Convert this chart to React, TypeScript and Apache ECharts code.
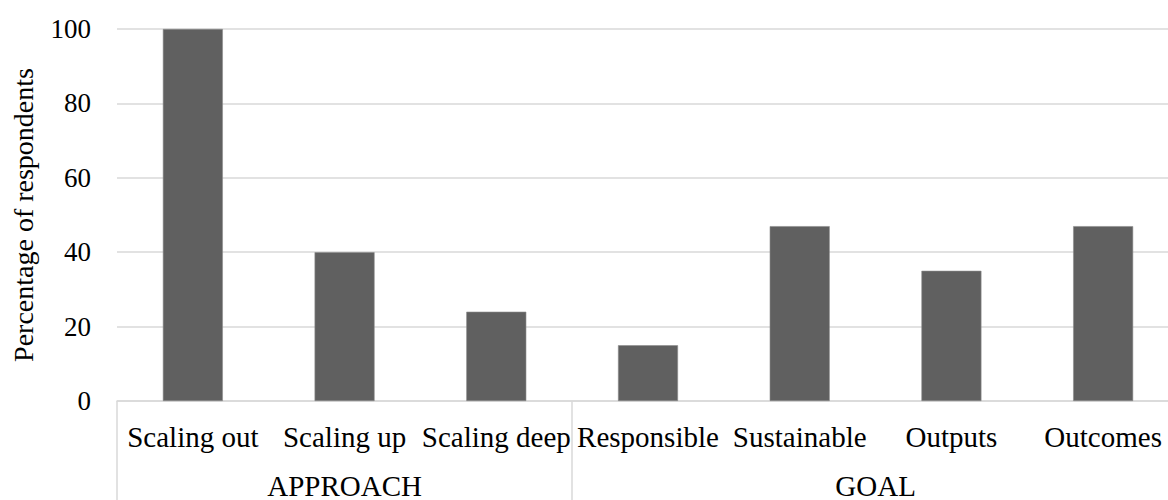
import React, { useEffect, useRef } from "react";
import * as echarts from "echarts";

const categories = ["Scaling out", "Scaling up", "Scaling deep", "Responsible", "Sustainable", "Outputs", "Outcomes"];
const values = [100, 40, 24, 15, 47, 35, 47];
const groupNames = ["APPROACH", "GOAL"];
const groupSizes = [3, 4];
const yTicks = [0, 20, 40, 60, 80, 100];

export default function App() {
  const ref = useRef<HTMLDivElement>(null);
  useEffect(() => {
    if (!ref.current) return;
    const chart = echarts.init(ref.current, null, { renderer: "svg" });
    const font = "'Liberation Serif', 'Times New Roman', serif";
    const bounds: number[] = [0];
    groupSizes.forEach((s) => bounds.push(bounds[bounds.length - 1] + s));
    const centers = groupSizes.map((s, i) => bounds[i] + s / 2);
    chart.setOption({
      animation: false,
      grid: { left: 117, width: 1062, top: 29, height: 372, outerBoundsMode: "none", containLabel: false },
      xAxis: [
        {
          type: "category",
          data: categories,
          position: "bottom",
          axisLine: { show: true, lineStyle: { color: "#d9d9d9", width: 1.5 } },
          axisTick: { show: false },
          axisLabel: { color: "#000", fontFamily: font, fontSize: 29, margin: 21, interval: 0 },
        },
        {
          type: "value",
          min: 0,
          max: categories.length,
          position: "bottom",
          axisLine: { show: false },
          splitLine: { show: false },
          axisTick: {
            show: true,
            customValues: bounds,
            length: 110,
            lineStyle: { color: "#d9d9d9", width: 1.5 },
          },
          axisLabel: {
            show: true,
            customValues: centers,
            color: "#000",
            fontFamily: font,
            fontSize: 29,
            margin: 70,
            formatter: (v: number) => {
              const i = centers.findIndex((c) => Math.abs(c - v) < 1e-6);
              return i >= 0 ? groupNames[i] : "";
            },
          },
        },
      ],
      yAxis: {
        type: "value",
        min: yTicks[0],
        max: yTicks[yTicks.length - 1],
        interval: 20,
        name: "Percentage of respondents",
        nameLocation: "middle",
        nameGap: 80,
        nameTextStyle: { color: "#000", fontFamily: font, fontSize: 28 },
        axisLine: { show: false },
        axisTick: { show: false },
        axisLabel: { color: "#000", fontFamily: font, fontSize: 27, margin: 26 },
        splitLine: { show: true, lineStyle: { color: "#d9d9d9", width: 1.5 } },
      },
      series: [
        {
          type: "bar",
          data: values,
          xAxisIndex: 0,
          barWidth: 60,
          itemStyle: { color: "#606060", borderColor: "#8c8c8c", borderWidth: 0.6 },
        },
      ],
    });
    return () => chart.dispose();
  }, []);
  return (
    <div
      ref={ref}
      style={{ position: "fixed", left: 0, top: 0, width: 1168, height: 500, background: "#fff" }}
    />
  );
}
